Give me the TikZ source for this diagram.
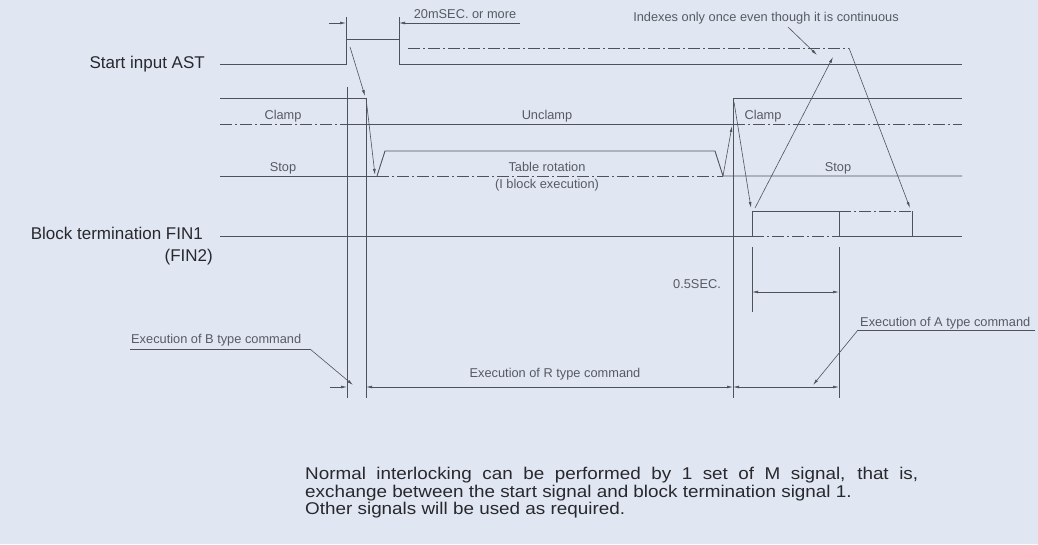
\documentclass[tikz,border=0pt]{standalone}
\usepackage{fontspec}
\setmainfont{Liberation Sans}
\newfontfamily\parafont[FakeStretch=1.11]{Liberation Sans}
\usetikzlibrary{arrows.meta}
\definecolor{bg}{RGB}{224,231,242}
\definecolor{ln}{RGB}{80,82,90}
\definecolor{lbl}{RGB}{88,90,98}
\definecolor{txt}{RGB}{40,40,45}
\begin{document}
\begin{tikzpicture}[x=1pt,y=-1pt,
  sig/.style={draw=ln, line width=0.9pt},
  dd/.style={draw=ln, line width=0.9pt, dash pattern=on 12pt off 3pt on 2pt off 3pt},
  ext/.style={draw=ln, line width=0.6pt},
  arr/.style={draw=ln, line width=0.6pt, -{Latex[length=6pt,width=2.8pt]}},
  dim/.style={draw=ln, line width=0.6pt, {Latex[length=6pt,width=2.8pt]}-{Latex[length=6pt,width=2.8pt]}},
  small/.style={text=lbl, font=\fontsize{12.8}{14}\selectfont, inner sep=0pt},
  big/.style={text=txt, font=\fontsize{17}{19}\selectfont, inner sep=0pt}]
\fill[bg] (0,0) rectangle (1038,544);
\useasboundingbox (0,0) rectangle (1038,544);

% ---- signal coordinates
\coordinate (a0) at (220,64);
\coordinate (a1) at (346,64);
\coordinate (a2) at (346,39);
\coordinate (a3) at (399,39);
\coordinate (a4) at (399,64);
\coordinate (a5) at (962,64);

% Start input AST
\draw[sig] (a0) -- (a1) -- (a2) -- (a3) -- (a4) -- (a5);
\draw[ext] (346,17) -- (a2);
\draw[ext] (399,17) -- (a3);
\coordinate (d20l) at (329,23);
\coordinate (d20r) at (520,23);
\draw[arr] (d20l) -- (346,23);
\draw[arr] (d20r) -- (399,23);
\coordinate (ddl) at (408,48);
\coordinate (ddr) at (849,48);
\draw[dd] (ddl) -- (ddr);

% Clamp / Unclamp
\draw[sig] (220,98) -- (366,98);
\draw[dd] (220,124) -- (347,124);
\draw[sig] (347,124) -- (733,124);
\draw[sig] (733,98) -- (962,98);
\draw[dd] (733,124) -- (962,124);

% Table rotation / Stop
\draw[sig] (220,176) -- (377,176);
\draw[dd] (377,176) -- (723,176);
\draw[sig] (377,176) -- (385,151) -- (715,151) -- (723,176) -- (962,176);

% Block termination FIN1
\coordinate (f1) at (752,236);
\coordinate (f2) at (752,211);
\coordinate (f3) at (839,211);
\coordinate (f4) at (839,236);
\draw[sig] (220,236) -- (f1) -- (f2) -- (f3) -- (f4) -- (962,236);
\draw[dd] (f1) -- (f4);
\draw[dd] (f3) -- (912,211);
\draw[sig] (912,211) -- (912,236);

% sequence arrows
\draw[arr] (350,47) -- (365,96);
\draw[arr] (366,98) -- (375,175);
\draw[arr] (723,176) -- (732,126);
\draw[arr] (734,102) -- (751,208);
\draw[arr] (755,208) -- (833,57);
\draw[arr] (ddr) -- (910,208);
\draw[arr] (788,27) -- (817,55);

% extension lines
\draw[ext] (347,87) -- (347,398);
\draw[ext] (366,98) -- (366,398);
\draw[ext] (733,98) -- (733,398);
\draw[ext] (752,247) -- (752,312);
\draw[ext] (839,247) -- (839,398);

% dimension lines
\draw[arr] (330,387) -- (347,387);
\draw[dim] (366,387) -- (733,387);
\draw[dim] (733,387) -- (839,387);
\draw[dim] (752,292) -- (839,292);

% leaders
\draw[ext] (130,349) -- (310,349);
\draw[arr] (310,349) -- (353,385);
\draw[ext] (1035,330) -- (858,330);
\draw[arr] (858,330) -- (813,385);

% labels
\node[big, anchor=base east] (lAST) at (205,68) {Start input AST};
\node[big, anchor=base east] (lFIN) at (203,239) {Block termination FIN1};
\node[big, anchor=base east] (lFIN2) at (213,261) {(FIN2)};

\node[small, anchor=base] (t20) at (465,18) {20mSEC. or more};
\node[small, anchor=base] (tidx) at (766,21) {Indexes only once even though it is continuous};
\node[small, anchor=base] (tcl1) at (283,119) {Clamp};
\node[small, anchor=base] (tuncl) at (547,119) {Unclamp};
\node[small, anchor=base] (tcl2) at (763,119) {Clamp};
\node[small, anchor=base] (tst1) at (283,171) {Stop};
\node[small, anchor=base] (trot) at (547,171) {Table rotation};
\node[small, anchor=base] (tblk) at (547,188) {(I block execution)};
\node[small, anchor=base] (tst2) at (838,171) {Stop};
\node[small, anchor=base] (t05) at (697,288) {0.5SEC.};
\node[small, anchor=base west] (tB) at (131,343) {Execution of B type command};
\node[small, anchor=base] (tR) at (555,377) {Execution of R type command};
\node[small, anchor=base west] (tA) at (860,326) {Execution of A type command};

\node[big, anchor=north west, align=left, font=\parafont\fontsize{17}{17.5}\selectfont] (para) at (305,467)
  {\makebox[613pt][s]{Normal interlocking can be performed by 1 set of M signal, that is,}\\
   exchange between the start signal and block termination signal 1.\\
   Other signals will be used as required.};
\end{tikzpicture}
\end{document}
